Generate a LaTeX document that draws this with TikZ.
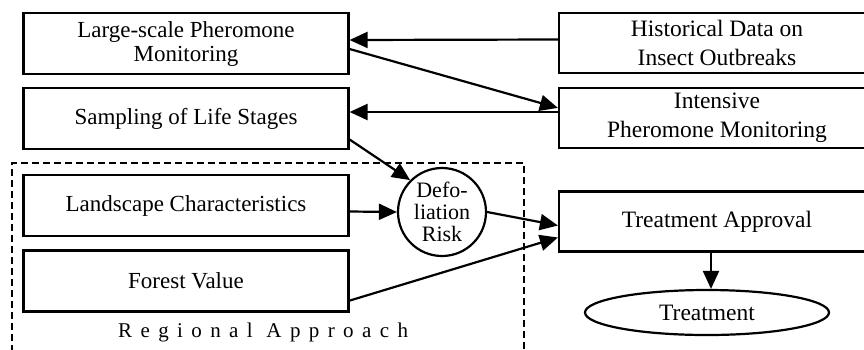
\documentclass[tikz,border=0pt]{standalone}
\usepackage{fontspec}
\setmainfont{Liberation Serif}
\usetikzlibrary{arrows.meta,shapes.geometric}
\begin{document}
\begin{tikzpicture}[x=1pt,y=-1pt,
  lbox/.style={draw, line width=2.2pt, rectangle, inner sep=0pt, align=center,
    minimum width=325pt, minimum height=61pt, font=\fontsize{23}{24}\selectfont},
  rbox/.style={draw, line width=2.2pt, rectangle, inner sep=0pt, align=center,
    minimum width=316pt, minimum height=60pt, font=\fontsize{23.5}{29}\selectfont},
  riskcirc/.style={draw, circle, line width=2.2pt, inner sep=0pt, minimum size=88pt,
    align=center, font=\fontsize{22}{22}\selectfont},
  oval/.style={draw, ellipse, line width=2.2pt, inner sep=0pt, minimum width=244pt,
    minimum height=45pt, font=\fontsize{23.5}{28}\selectfont},
  conn/.style={line width=2.2pt, -{Triangle[length=18pt,width=16pt]}},
  region/.style={line width=2pt, dash pattern=on 7pt off 4pt}
]
\useasboundingbox (0,0) rectangle (864,349);

% left column
\node[lbox] (lspm) at (186,43.5) {Large-scale Pheromone\\Monitoring};
\node[lbox] (samp) at (186,118.5) {Sampling of Life Stages};
\node[lbox] (land) at (186,205.5) {Landscape Characteristics};
\node[lbox] (forest) at (186,281) {Forest Value};

% right column
\node[rbox] (hist) at (717,43) {Historical Data on\\Insect Outbreaks};
\node[rbox] (inten) at (717,118) {Intensive\\Pheromone Monitoring};
\node[rbox] (appr) at (717,221.5) {Treatment Approval};

% risk circle and treatment
\node[riskcirc] (risk) at (442,212) {Defo-\\liation\\Risk};
\node[oval] (treat) at (707,312.5) {Treatment};

% regional approach dashed frame
\coordinate (rbl) at (12,352);
\coordinate (rtl) at (12,163);
\coordinate (rtr) at (524,163);
\coordinate (rbr) at (524,352);
\draw[region] (rbl) -- (rtl) -- (rtr) -- (rbr);
\node[anchor=base west, inner sep=0pt, font=\fontsize{21}{24}\selectfont\addfontfeature{LetterSpace=40}] (reglab) at (118,337) {Regional Approach};

% connectors
\coordinate (tdrop) at ([xshift=-6pt]appr.south);
\draw[conn] ([yshift=3.5pt]hist.west) -- ([yshift=3.5pt]lspm.east);
\draw[conn] ([yshift=-5.5pt]lspm.east) -- ([yshift=-21pt]inten.north west);
\draw[conn] ([yshift=6pt]inten.west) -- ([yshift=6.5pt]samp.east);
\draw[conn] ([yshift=-21pt]samp.east) -- (risk.135);
\draw[conn] ([yshift=-6pt]land.east) -- (risk.west);
\draw[conn] (risk.east) -- ([yshift=-4pt]appr.west);
\draw[conn] ([yshift=12pt]forest.south east) -- ([yshift=-16pt]appr.west);
\draw[conn] (tdrop) -- (tdrop |- treat.north);
\end{tikzpicture}
\end{document}
